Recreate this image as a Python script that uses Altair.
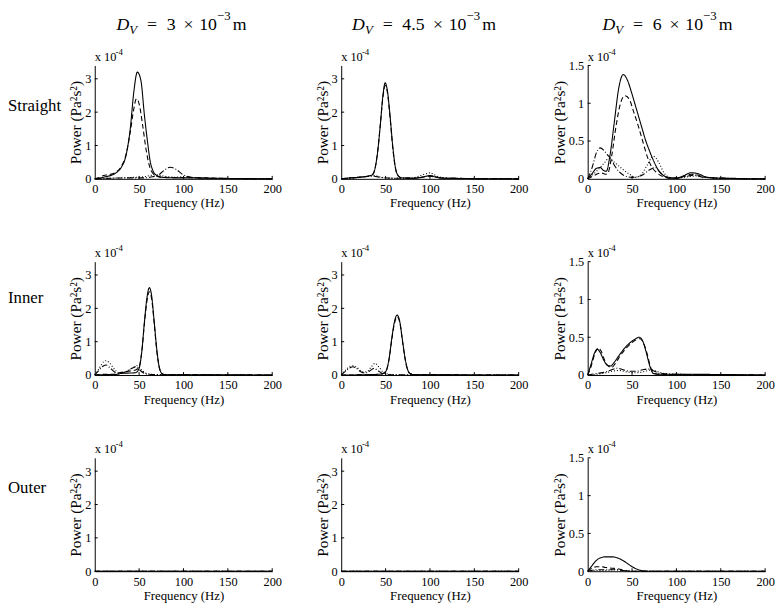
import altair as alt
import pandas as pd

FONT = "Liberation Serif"

# ---------------- data (power in units of 1e-4 Pa^2 s^2) ----------------
ROW_NAMES = ["Straight", "Inner", "Outer"]
DV_LABELS = ["3", "4.5", "6"]
FREQ_TICKS = [0, 50, 100, 150, 200]
Y_TICKS = [[0, 1, 2, 3], [0, 1, 2, 3], [0, 0.5, 1, 1.5]]
Y_MAX = [3.4, 3.4, 1.5]
SERIES = ["solid", "dashed", "dashdot", "dotted"]
DASHES = [[1, 0], [5, 3], [6, 2, 1, 2], [1, 2]]

straight_3_solid = [(0, 0), (5, 0.02), (10, 0.05), (15, 0.08), (20, 0.12), (25, 0.2), (30, 0.35), (35, 0.68),
                    (40, 1.5), (44, 2.6), (48, 3.2), (52, 2.95), (56, 1.9), (60, 1.0), (62, 0.6), (66, 0.22),
                    (70, 0.1), (78, 0.04), (90, 0.03), (110, 0.03), (130, 0.02), (160, 0.01), (200, 0)]
straight_3_dashed = [(0, 0), (5, 0.04), (10, 0.1), (15, 0.12), (20, 0.15), (25, 0.22), (30, 0.38), (35, 0.7),
                     (40, 1.4), (44, 2.1), (47, 2.4), (50, 2.25), (54, 1.6), (58, 0.85), (62, 0.35), (66, 0.15),
                     (70, 0.08), (75, 0.05), (85, 0.04), (100, 0.04), (120, 0.03), (150, 0.01), (200, 0)]
straight_3_dashdot = [(0, 0), (20, 0.02), (40, 0.03), (55, 0.03), (65, 0.06), (72, 0.12), (78, 0.25), (85, 0.35),
                      (92, 0.28), (98, 0.15), (105, 0.07), (115, 0.03), (140, 0.01), (200, 0)]
straight_3_dotted = [(0, 0), (20, 0.02), (40, 0.04), (55, 0.06), (62, 0.1), (70, 0.12), (78, 0.08), (90, 0.05),
                     (100, 0.06), (110, 0.04), (130, 0.02), (200, 0)]

straight_45_solid = [(0, 0), (10, 0.03), (20, 0.05), (30, 0.08), (35, 0.12), (38, 0.3), (41, 0.8), (44, 1.6),
                     (47, 2.5), (49.5, 2.88), (52, 2.65), (55, 1.9), (58, 1.0), (61, 0.35), (64, 0.1), (68, 0.03),
                     (80, 0.02), (90, 0.04), (96, 0.08), (100, 0.09), (106, 0.06), (115, 0.02), (140, 0.01), (200, 0)]
straight_45_dashed = [(0, 0), (10, 0.03), (20, 0.05), (30, 0.08), (35, 0.12), (38, 0.3), (41, 0.8), (44, 1.6),
                      (47, 2.45), (49.5, 2.8), (52, 2.6), (55, 1.85), (58, 0.95), (61, 0.33), (64, 0.1), (68, 0.03),
                      (80, 0.02), (90, 0.04), (96, 0.07), (100, 0.08), (106, 0.05), (115, 0.02), (140, 0.01), (200, 0)]
straight_45_dashdot = [(0, 0), (15, 0.03), (30, 0.07), (37, 0.08), (45, 0.04), (60, 0.02), (80, 0.02), (95, 0.07),
                       (100, 0.1), (108, 0.05), (120, 0.02), (200, 0)]
straight_45_dotted = [(0, 0), (15, 0.03), (30, 0.08), (37, 0.1), (45, 0.05), (60, 0.02), (80, 0.03), (95, 0.15),
                      (100, 0.18), (108, 0.08), (120, 0.02), (200, 0)]

straight_6_solid = [(0, 0), (5, 0.07), (10, 0.14), (14, 0.15), (18, 0.11), (21, 0.1), (25, 0.3), (30, 0.75),
                    (35, 1.2), (40, 1.38), (45, 1.3), (50, 1.12), (55, 0.92), (60, 0.72), (65, 0.52), (70, 0.36),
                    (75, 0.22), (80, 0.11), (86, 0.04), (92, 0.01), (100, 0.01), (108, 0.04), (116, 0.08),
                    (124, 0.07), (132, 0.03), (145, 0.01), (200, 0)]
straight_6_dashed = [(0, 0), (5, 0.03), (10, 0.06), (15, 0.08), (20, 0.06), (23, 0.08), (27, 0.3), (32, 0.7),
                     (37, 1.0), (42, 1.1), (47, 1.05), (52, 0.88), (57, 0.7), (62, 0.5), (67, 0.3), (72, 0.16),
                     (78, 0.08), (85, 0.03), (92, 0.01), (100, 0.01), (108, 0.03), (116, 0.06), (124, 0.05),
                     (132, 0.02), (145, 0.01), (200, 0)]
straight_6_dashdot = [(0, 0), (5, 0.15), (10, 0.35), (14, 0.41), (18, 0.38), (22, 0.32), (26, 0.27), (30, 0.18),
                      (35, 0.1), (40, 0.05), (50, 0.02), (60, 0.04), (70, 0.12), (76, 0.15), (82, 0.08), (90, 0.02),
                      (100, 0.01), (110, 0.03), (120, 0.05), (130, 0.02), (200, 0)]
straight_6_dotted = [(0, 0), (10, 0.1), (18, 0.2), (24, 0.27), (30, 0.22), (38, 0.14), (46, 0.07), (54, 0.02),
                     (60, 0.05), (67, 0.18), (74, 0.3), (80, 0.22), (86, 0.08), (92, 0.02), (100, 0.01),
                     (115, 0.03), (125, 0.04), (140, 0.01), (200, 0)]

inner_3_solid = [(0, 0), (10, 0.01), (25, 0.02), (30, 0.05), (40, 0.06), (46, 0.07), (50, 0.2), (53, 0.7),
                 (56, 1.6), (59, 2.35), (61.5, 2.62), (64, 2.4), (67, 1.6), (70, 0.75), (73, 0.2), (76, 0.04),
                 (80, 0.01), (100, 0.01), (200, 0)]
inner_3_dashed = [(0, 0), (10, 0.02), (20, 0.02), (30, 0.08), (40, 0.12), (46, 0.15), (50, 0.25), (53, 0.7),
                  (56, 1.55), (59, 2.25), (61.5, 2.5), (64, 2.3), (67, 1.55), (70, 0.7), (73, 0.2), (76, 0.04),
                  (80, 0.01), (200, 0)]
inner_3_dashdot = [(0, 0), (5, 0.15), (10, 0.28), (13, 0.3), (17, 0.22), (22, 0.1), (28, 0.05), (35, 0.1),
                   (42, 0.2), (47, 0.25), (52, 0.12), (58, 0.03), (70, 0.01), (200, 0)]
inner_3_dotted = [(0, 0), (5, 0.2), (10, 0.4), (13, 0.43), (17, 0.35), (22, 0.18), (28, 0.05), (35, 0.1),
                  (42, 0.2), (48, 0.28), (54, 0.12), (60, 0.03), (75, 0.01), (200, 0)]

inner_45_solid = [(0, 0), (30, 0.01), (45, 0.03), (50, 0.1), (54, 0.5), (57, 1.1), (60, 1.6), (63, 1.8),
                  (66, 1.6), (69, 1.05), (72, 0.5), (75, 0.15), (78, 0.04), (82, 0.01), (200, 0)]
inner_45_dashed = [(0, 0), (30, 0.01), (45, 0.03), (50, 0.1), (54, 0.48), (57, 1.07), (60, 1.55), (63, 1.75),
                   (66, 1.58), (69, 1.02), (72, 0.48), (75, 0.14), (78, 0.04), (82, 0.01), (200, 0)]
inner_45_dashdot = [(0, 0), (5, 0.12), (10, 0.22), (13, 0.25), (17, 0.2), (22, 0.1), (27, 0.06), (32, 0.12),
                    (37, 0.2), (42, 0.12), (48, 0.03), (60, 0.01), (200, 0)]
inner_45_dotted = [(0, 0), (5, 0.15), (10, 0.26), (13, 0.28), (18, 0.22), (24, 0.1), (29, 0.1), (34, 0.25),
                   (38, 0.35), (43, 0.22), (49, 0.05), (60, 0.01), (200, 0)]

inner_6_solid = [(0, 0), (4, 0.15), (8, 0.3), (11, 0.34), (14, 0.3), (18, 0.2), (22, 0.13), (26, 0.12),
                 (30, 0.17), (36, 0.27), (42, 0.36), (48, 0.43), (54, 0.48), (58, 0.5), (62, 0.45), (66, 0.3),
                 (70, 0.12), (74, 0.02), (80, 0.01), (100, 0.01), (200, 0)]
inner_6_dashed = [(0, 0), (4, 0.12), (8, 0.28), (12, 0.36), (15, 0.32), (19, 0.2), (23, 0.12), (27, 0.1),
                  (31, 0.15), (37, 0.26), (43, 0.35), (49, 0.42), (55, 0.47), (59, 0.48), (63, 0.42), (67, 0.28),
                  (71, 0.1), (75, 0.02), (80, 0.01), (200, 0)]
inner_6_dashdot = [(0, 0), (10, 0.02), (20, 0.04), (27, 0.07), (33, 0.09), (40, 0.07), (48, 0.05), (55, 0.05),
                   (62, 0.07), (68, 0.08), (75, 0.05), (82, 0.02), (95, 0.01), (200, 0)]
inner_6_dotted = [(0, 0), (10, 0.01), (20, 0.03), (28, 0.05), (35, 0.06), (45, 0.04), (55, 0.03), (65, 0.05),
                  (72, 0.07), (78, 0.05), (86, 0.02), (100, 0.01), (200, 0)]

outer_3_solid = [(0, 0), (200, 0)]
outer_3_dashed = [(0, 0), (200, 0)]
outer_3_dashdot = [(0, 0), (200, 0)]
outer_3_dotted = [(0, 0), (200, 0)]

outer_45_solid = [(0, 0), (200, 0)]
outer_45_dashed = [(0, 0), (200, 0)]
outer_45_dashdot = [(0, 0), (200, 0)]
outer_45_dotted = [(0, 0), (200, 0)]

outer_6_solid = [(0, 0), (4, 0.06), (8, 0.12), (13, 0.17), (20, 0.19), (28, 0.19), (35, 0.17), (40, 0.14),
                 (45, 0.1), (50, 0.06), (55, 0.03), (60, 0.01), (70, 0.0), (200, 0)]
outer_6_dashed = [(0, 0), (5, 0.04), (10, 0.06), (15, 0.06), (20, 0.05), (28, 0.04), (35, 0.03), (42, 0.01),
                  (50, 0), (200, 0)]
outer_6_dashdot = [(0, 0), (10, 0.02), (20, 0.02), (30, 0.02), (40, 0.01), (50, 0), (200, 0)]
outer_6_dotted = [(0, 0), (10, 0.01), (20, 0.01), (30, 0.02), (40, 0.01), (50, 0), (200, 0)]

PANEL_CURVES = [
    [[straight_3_solid, straight_3_dashed, straight_3_dashdot, straight_3_dotted],
     [straight_45_solid, straight_45_dashed, straight_45_dashdot, straight_45_dotted],
     [straight_6_solid, straight_6_dashed, straight_6_dashdot, straight_6_dotted]],
    [[inner_3_solid, inner_3_dashed, inner_3_dashdot, inner_3_dotted],
     [inner_45_solid, inner_45_dashed, inner_45_dashdot, inner_45_dotted],
     [inner_6_solid, inner_6_dashed, inner_6_dashdot, inner_6_dotted]],
    [[outer_3_solid, outer_3_dashed, outer_3_dashdot, outer_3_dotted],
     [outer_45_solid, outer_45_dashed, outer_45_dashdot, outer_45_dotted],
     [outer_6_solid, outer_6_dashed, outer_6_dashdot, outer_6_dotted]],
]

# ---------------- layout ----------------
W, H = 180, 115
COL_SPACING, ROW_SPACING = 70, 84
ROW_LABEL_Y = [41, 37, 31]
TITLE_START = [22, 11, 15]   # title left edge relative to each top panel


def text_layer(txt, x, y, size, style="normal", baseline="alphabetic"):
    return alt.Chart(pd.DataFrame({"t": [txt]})).mark_text(
        align="left", baseline=baseline, font=FONT, fontSize=size, fontStyle=style, color="black"
    ).encode(x=alt.value(x), y=alt.value(y), text="t:N")


def panel(r, c):
    rows = []
    for name, pts in zip(SERIES, PANEL_CURVES[r][c]):
        for f, v in pts:
            rows.append({"f": f, "v": v, "s": name})
    df = pd.DataFrame(rows)
    xs = alt.Scale(domain=[0, 200], nice=False, zero=False)
    ys = alt.Scale(domain=[0, Y_MAX[c]], nice=False)
    xaxis = alt.Axis(values=FREQ_TICKS, title="Frequency (Hz)", labelFlush=False)
    yaxis = alt.Axis(values=Y_TICKS[c], title="Power (Pa²s²)", format="~g")

    lines = alt.Chart(df).mark_line(color="black", strokeWidth=1.1, interpolate="monotone").encode(
        x=alt.X("f:Q", scale=xs, axis=xaxis),
        y=alt.Y("v:Q", scale=ys, axis=yaxis),
        strokeDash=alt.StrokeDash("s:N", scale=alt.Scale(domain=SERIES, range=DASHES), legend=None),
        detail="s:N",
    )
    xt = alt.Chart(pd.DataFrame({"f": FREQ_TICKS[1:]})).mark_rule(color="black", strokeWidth=1).encode(
        x=alt.X("f:Q", scale=xs, axis=xaxis), y=alt.value(H), y2=alt.value(H - 3))
    yt = alt.Chart(pd.DataFrame({"v": Y_TICKS[c][1:]})).mark_rule(color="black", strokeWidth=1).encode(
        y=alt.Y("v:Q", scale=ys, axis=yaxis), x=alt.value(0), x2=alt.value(3))

    layers = [lines, xt, yt,
              text_layer("x 10", 0, -5, 12.5),
              text_layer("-4", 21, -11, 9)]

    if c == 0:
        layers.append(text_layer(ROW_NAMES[r], -88, ROW_LABEL_Y[r], 17, baseline="middle"))
    if r == 0:
        x0 = TITLE_START[c]
        shift = 14 if DV_LABELS[c] == "4.5" else 0
        layers += [
            text_layer("D", x0, -36, 18, "italic"),
            text_layer("V", x0 + 13, -32, 13, "italic"),
            text_layer("=", x0 + 31, -36, 18),
            text_layer(DV_LABELS[c], x0 + 51, -36, 18),
            text_layer("×", x0 + 68 + shift, -36, 18),
            text_layer("10", x0 + 84 + shift, -36, 18),
            text_layer("−3", x0 + 102 + shift, -46, 13),
            text_layer("m", x0 + 118 + shift, -36, 18),
        ]
    return alt.layer(*layers).properties(width=W, height=H)


panels = [panel(r, c) for r in range(3) for c in range(3)]

chart = alt.concat(
    *panels, columns=3, spacing={"row": ROW_SPACING, "column": COL_SPACING}, bounds="flush"
).properties(
    padding={"left": 0, "top": -2, "right": 0, "bottom": 0}
).configure_view(
    strokeWidth=0
).configure_axis(
    grid=False, ticks=False, domainColor="black", domainWidth=1,
    labelFont=FONT, labelFontSize=12.5, labelColor="black", labelPadding=4,
    titleFont=FONT, titleFontSize=13, titleFontWeight="normal", titleColor="black",
).configure_axisX(titlePadding=2).configure_axisY(titlePadding=1, titleFontSize=15.5)

chart.save("out.html", embed_options={"renderer": "svg", "actions": False})
